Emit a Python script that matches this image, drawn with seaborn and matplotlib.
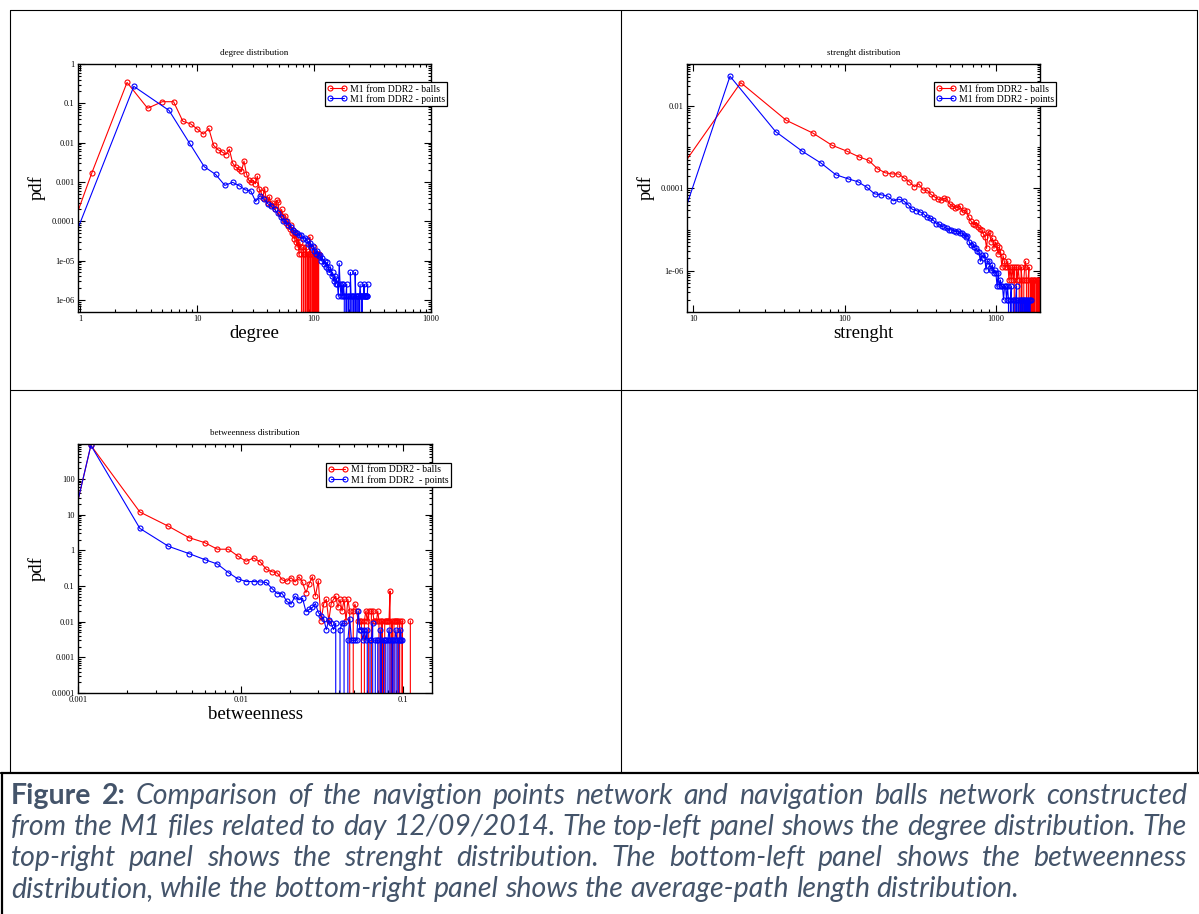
import matplotlib
matplotlib.use("Agg")
import numpy as np
import matplotlib.pyplot as plt
import seaborn as sns
from matplotlib.lines import Line2D
from matplotlib.ticker import LogLocator, FixedLocator, FuncFormatter, NullFormatter

# ---------------------------
# data
# ---------------------------

# degree distribution
DEG_BALLS_X = [0.9, 1.26, 2.52, 3.78, 5.04, 6.30, 7.56, 8.82, 10.08, 11.34, 12.60, 13.86, 15.12, 16.38, 17.64,
               18.90, 20.16, 21.42, 22.68, 23.94, 25.20, 26.46, 27.72, 28.98, 30.24, 31.50, 32.76, 34.02, 35.28,
               36.54, 37.80, 39.06, 40.32, 41.58, 42.84, 44.10, 45.36, 46.62, 47.88, 49.14, 50.40, 51.66, 52.92,
               54.18, 55.44, 56.70, 57.96, 59.22, 60.48, 61.74, 63.00, 64.26, 65.52, 66.78, 68.04, 69.30, 70.56,
               71.82, 73.08, 74.34, 75.60, 76.86, 78.12, 79.38, 80.64, 81.90, 83.16, 84.42, 85.68, 86.94, 88.20,
               89.46, 90.72, 91.98, 93.24, 94.50, 95.76, 97.02, 98.28, 99.54, 100.80, 102.06, 103.32, 104.58,
               105.84, 107.10, 108.36, 109.62, 110.88]
DEG_BALLS_Y = [1.07e-4, 1.7e-3, 0.34, 0.075, 0.11, 0.11, 0.035, 0.030, 0.022, 0.0165, 0.023,
               0.0085, 0.0066, 0.0058, 0.0050, 0.0068, 0.0030, 0.0024, 0.0021, 0.0019, 0.0034,
               0.0016, 0.0011, 0.0010, 0.0011, 0.0009, 0.0014,
               6.5e-4, 5.5e-4, 4.0e-4, 6.8e-4, 3.6e-4, 3.0e-4, 4.2e-4, 2.6e-4, 3.0e-4, 2.4e-4,
               2.0e-4, 3.4e-4, 3.1e-4, 1.7e-4, 1.5e-4, 2.0e-4, 1.3e-4, 1.1e-4, 1.4e-4, 9e-5,
               1.0e-4, 7.5e-5, 6.5e-5, 8e-5, 5e-5, 6e-5, 4.5e-5, 3.5e-5, 5.5e-5, 3e-5,
               2.2e-5, 4e-5, 1.5e-5, 3e-5, 2.2e-5, 1.5e-5, 0, 2.2e-5, 1.5e-5, 0,
               1.5e-5, 2.2e-5, 0, 1.5e-5, 1.5e-5, 0, 4e-5, 1.5e-5, 0, 1.5e-5,
               1.5e-5, 0, 2.2e-5, 0, 1.5e-5, 1.5e-5, 0, 1.5e-5, 0, 1.5e-5,
               1.5e-5, 0]
DEG_POINTS_X = [0.9, 2.88, 5.76, 8.64, 11.52, 14.40, 17.28, 20.16, 23.04, 25.92, 28.80, 31.68, 34.56, 37.44,
                40.32, 43.20, 46.08, 48.96, 51.84, 54.72, 57.60, 60.48, 63.36, 66.24, 69.12, 72.00, 74.88,
                77.76, 80.64, 83.52, 86.40, 89.28, 92.16, 95.04, 97.92, 100.80, 103.68, 106.56, 109.44, 112.32,
                115.20, 118.08, 120.96, 123.84, 126.72, 129.60, 132.48, 135.36, 138.24, 141.12, 144.00, 146.88,
                149.76, 152.64, 155.52, 158.40, 161.28, 164.16, 167.04, 169.92, 172.80, 175.68, 178.56, 181.44,
                184.32, 187.20, 190.08, 192.96, 195.84, 198.72, 201.60, 204.48, 207.36, 210.24, 213.12, 216.00,
                218.88, 221.76, 224.64, 227.52, 230.40, 233.28, 236.16, 239.04, 241.92, 244.80, 247.68, 250.56,
                253.44, 256.32, 259.20, 262.08, 264.96, 267.84, 270.72, 273.60, 276.48, 279.36, 282.24, 285.12,
                288.00]
DEG_POINTS_Y = [4.1e-5, 0.27, 0.066, 0.0096, 0.00245, 0.00156, 0.00082, 0.00098, 0.0008, 0.00063,
                0.00059, 0.00032, 0.00045,
                3.6e-4, 2.8e-4, 2.4e-4, 2.0e-4, 1.6e-4,
                1.3e-4, 1.0e-4, 1.0e-4, 8e-5, 7e-5, 6e-5, 5.5e-5, 5e-5, 4.5e-5, 4.6e-5,
                3.6e-5, 3.8e-5, 3.4e-5, 2.6e-5, 2.8e-5, 2.2e-5, 2.4e-5, 1.8e-5, 1.5e-5, 1.8e-5,
                1.3e-5, 1.4e-5, 1.0e-5, 1.2e-5, 8e-6, 1.0e-5, 7e-6, 9e-6, 6e-6, 5e-6,
                7e-6, 4e-6, 5e-6, 3e-6, 4e-6, 2.5e-6, 3.5e-6, 2.5e-6, 1.25e-6, 8.5e-6,
                2.5e-6, 1.25e-6, 2.5e-6, 1.25e-6, 2.5e-6,
                1.25e-6, 0, 1.25e-6, 2.5e-6, 0, 1.25e-6, 1.25e-6, 0, 5e-6, 1.25e-6,
                1.25e-6, 0, 1.25e-6, 1.25e-6, 0, 5e-6, 1.25e-6, 0, 1.25e-6, 1.25e-6,
                1.25e-6, 0, 1.25e-6, 2.5e-6, 1.25e-6, 1.25e-6, 0, 1.25e-6, 1.25e-6, 1.25e-6,
                2.5e-6, 1.25e-6, 1.25e-6, 1.25e-6, 1.25e-6, 1.25e-6, 1.25e-6, 2.5e-6]

# strenght distribution
STR_BALLS_X = [8, 20.6, 41.2, 61.8, 82.4, 103.0, 123.6, 144.2, 164.8, 185.4, 206.0, 226.6, 247.2, 267.8,
               288.4, 309.0, 329.6, 350.2, 370.8, 391.4, 412.0, 432.6, 453.2, 473.8, 494.4, 515.0, 535.6,
               556.2, 576.8, 597.4, 618.0, 638.6, 659.2, 679.8, 700.4, 721.0, 741.6, 762.2, 782.8, 803.4,
               824.0, 844.6, 865.2, 885.8, 906.4, 927.0, 947.6, 968.2, 988.8, 1009.4, 1030.0, 1050.6, 1071.2,
               1091.8, 1112.4, 1133.0, 1153.6, 1174.2, 1194.8, 1215.4, 1236.0, 1256.6, 1277.2, 1297.8,
               1318.4, 1339.0, 1359.6, 1380.2, 1400.8, 1421.4, 1442.0, 1462.6, 1483.2, 1503.8, 1524.4,
               1545.0, 1565.6, 1586.2, 1606.8, 1627.4, 1648.0, 1668.6, 1689.2, 1709.8, 1730.4, 1751.0,
               1771.6, 1792.2, 1812.8, 1833.4, 1854.0, 1874.6, 1895.2, 1915.8, 1936.4]
STR_BALLS_Y = [2.6e-4, 0.037, 0.0045, 0.0022, 0.00112, 8.1e-4, 5.9e-4, 4.8e-4, 3.0e-4, 2.4e-4, 2.25e-4,
               2.25e-4, 1.8e-4, 1.45e-4, 1.1e-4, 1.3e-4, 9.1e-5, 9.1e-5, 7.2e-5, 6.3e-5, 5.5e-5,
               5.2e-5, 5.8e-5, 5.5e-5, 4.2e-5, 3.8e-5, 3.3e-5, 3.5e-5, 3.7e-5, 2.7e-5, 3.0e-5,
               2.8e-5, 2.0e-5, 1.66e-5, 1.4e-5, 1.3e-5, 1.5e-5, 1.17e-5, 1.05e-5, 9.8e-6, 7.9e-6,
               6.8e-6, 3.5e-6, 8.9e-6, 8.1e-6, 5e-6, 6.2e-6, 3.5e-6, 5e-6, 4.3e-6, 2.5e-6,
               3.8e-6, 2.8e-6, 1.23e-6, 2.3e-6, 1.7e-6, 1.23e-6, 1.23e-6, 1.7e-6, 6e-7, 1.23e-6,
               6e-7, 1.23e-6, 6e-7, 1.23e-6, 0, 1.23e-6, 6e-7, 1.23e-6, 6e-7, 0,
               1.23e-6, 6e-7, 0, 6e-7, 1.23e-6, 1.7e-6, 6e-7, 0, 6e-7, 1.23e-6,
               0, 6e-7, 6e-7, 0, 6e-7, 0, 6e-7, 6e-7, 0, 6e-7,
               0, 6e-7, 0, 6e-7]
STR_POINTS_X = [8, 17.5, 35.0, 52.5, 70.0, 87.5, 105.0, 122.5, 140.0, 157.5, 175.0, 192.5, 210.0, 227.5,
                245.0, 262.5, 280.0, 297.5, 315.0, 332.5, 350.0, 367.5, 385.0, 402.5, 420.0, 437.5, 455.0,
                472.5, 490.0, 507.5, 525.0, 542.5, 560.0, 577.5, 595.0, 612.5, 630.0, 647.5, 665.0, 682.5,
                700.0, 717.5, 735.0, 752.5, 770.0, 787.5, 805.0, 822.5, 840.0, 857.5, 875.0, 892.5, 910.0,
                927.5, 945.0, 962.5, 980.0, 997.5, 1015.0, 1032.5, 1050.0, 1067.5, 1085.0, 1102.5, 1120.0,
                1137.5, 1155.0, 1172.5, 1190.0, 1207.5, 1225.0, 1242.5, 1260.0, 1277.5, 1295.0, 1312.5,
                1330.0, 1347.5, 1365.0, 1382.5, 1400.0, 1417.5, 1435.0, 1452.5, 1470.0, 1487.5, 1505.0,
                1522.5, 1540.0, 1557.5, 1575.0, 1592.5, 1610.0, 1627.5, 1645.0, 1662.5, 1680.0, 1697.5]
STR_POINTS_Y = [1e-5, 0.053, 0.0024, 8.0e-4, 4.1e-4, 2.15e-4, 1.72e-4, 1.45e-4, 1.07e-4, 7.4e-5, 7.0e-5,
                6.5e-5, 5.0e-5, 5.5e-5, 5.0e-5, 4.0e-5, 3.1e-5, 2.9e-5, 2.7e-5, 2.4e-5, 2.0e-5,
                1.9e-5, 1.7e-5, 1.4e-5, 1.35e-5, 1.2e-5, 1.15e-5, 1.07e-5, 1.0e-5, 9.8e-6, 9.5e-6,
                8.9e-6, 9.2e-6, 8.1e-6, 8.3e-6, 7.4e-6, 6.8e-6, 7.2e-6, 5.0e-6, 4.3e-6, 4.6e-6,
                3.8e-6, 3.5e-6, 3.0e-6, 2.9e-6, 1.7e-6, 2.4e-6, 2.1e-6, 2.4e-6, 1.05e-6, 1.7e-6,
                1.7e-6, 1.2e-6, 1.05e-6, 1.4e-6, 8.7e-7, 1.05e-6, 8.7e-7, 4.2e-7, 8.7e-7, 4.2e-7,
                6e-7, 4.2e-7, 4.2e-7, 2e-7, 4.2e-7, 4.2e-7, 2e-7, 4.2e-7, 2e-7, 0,
                2e-7, 4.2e-7, 0, 2e-7, 2e-7, 0, 2e-7, 4.2e-7, 0, 2e-7,
                0, 2e-7, 2e-7, 0, 2e-7, 0, 2e-7, 2e-7, 0, 2e-7,
                0, 2e-7, 0, 2e-7, 0, 2e-7, 2e-7]

# betweenness distribution (both sets share the same bins)
BTW_X = [0.0009, 0.0012, 0.0024, 0.0036, 0.0048, 0.0060, 0.0072, 0.0084, 0.0096, 0.0108, 0.0120, 0.0132,
         0.0144, 0.0156, 0.0168, 0.0180, 0.0192, 0.0204, 0.0216, 0.0228, 0.0240, 0.0252, 0.0264, 0.0276,
         0.0288, 0.0300, 0.0312, 0.0324, 0.0336, 0.0348, 0.0360, 0.0372, 0.0384, 0.0396, 0.0408, 0.0420,
         0.0432, 0.0444, 0.0456, 0.0468, 0.0480, 0.0492, 0.0504, 0.0516, 0.0528, 0.0540, 0.0552, 0.0564,
         0.0576, 0.0588, 0.0600, 0.0612, 0.0624, 0.0636, 0.0648, 0.0660, 0.0672, 0.0684, 0.0696, 0.0708,
         0.0720, 0.0732, 0.0744, 0.0756, 0.0768, 0.0780, 0.0792, 0.0804, 0.0816, 0.0828, 0.0840, 0.0852,
         0.0864, 0.0876, 0.0888, 0.0900, 0.0912, 0.0924, 0.0936, 0.0948, 0.0960, 0.0972, 0.0984, 0.0996,
         0.1008, 0.1020, 0.1032, 0.1044, 0.1056, 0.1068, 0.1080, 0.1092, 0.1104]
BTW_BALLS_Y = [3.2, 871, 11.8, 4.7, 2.27, 1.64, 1.07, 1.07, 0.69, 0.49, 0.61,
               0.47, 0.29, 0.25, 0.23, 0.148, 0.135, 0.17, 0.13, 0.18, 0.125,
               0.065, 0.117, 0.18, 0.052, 0.14, 0.0105, 0.032, 0.042, 0.0105, 0.032,
               0.042, 0.052, 0.025, 0.042, 0.02, 0.042, 0.0105, 0.042, 0.02, 0,
               0.02, 0.031, 0.02, 0.0105, 0.0105, 0.0105, 0, 0.0105, 0.02, 0.0105,
               0.02, 0, 0.02, 0.02, 0.0105, 0.0105, 0.0105, 0.02, 0.0105, 0,
               0.0105, 0.0105, 0, 0.0105, 0.0105, 0.0105, 0.0105, 0.0105, 0.072, 0,
               0.0105, 0, 0.0105, 0.0105, 0.0105, 0.0105, 0.0105, 0, 0.0105, 0,
               0, 0.0105, 0, 0, 0, 0, 0, 0, 0, 0,
               0, 0.0105]
BTW_POINTS_Y = [3.2, 871, 4.1, 1.29, 0.81, 0.55, 0.41, 0.237, 0.158, 0.133, 0.133,
                0.13, 0.125, 0.084, 0.061, 0.061, 0.037, 0.031, 0.052, 0.041, 0.045,
                0.019, 0.022, 0.025, 0.032, 0.018, 0.0145, 0.012, 0.006, 0.011, 0.009,
                0.006, 0.009, 0, 0.006, 0.009, 0.009, 0, 0.003, 0.012, 0.003,
                0.003, 0.003, 0.003, 0.02, 0.006, 0.006, 0.003, 0.006, 0.003, 0.006,
                0, 0.003, 0.003, 0.009, 0, 0.003, 0.003, 0.003, 0, 0.006,
                0.003, 0, 0.003, 0.003, 0.003, 0, 0.003, 0.006, 0.003, 0,
                0.003, 0.003, 0, 0.003, 0.006, 0.003, 0, 0.003, 0.003, 0.006,
                0.003, 0.003]

LABEL_BALLS = "M1 from DDR2 - balls"
LABEL_POINTS = "M1 from DDR2 - points"
LABEL_POINTS_BTW = "M1 from DDR2  - points"

CAPTION_LINES = [
    "Figure 2: Comparison of the navigtion points network and navigation balls network constructed",
    "from the M1 files related to day 12/09/2014. The top-left panel shows the degree distribution. The",
    "top-right panel shows the strenght distribution. The bottom-left panel shows the betweenness",
    "distribution, while the bottom-right panel shows the average-path length distribution.",
]

# ---------------------------
# style
# ---------------------------
sns.set_style("ticks", {"axes.edgecolor": "black", "xtick.color": "black", "ytick.color": "black",
                        "text.color": "black", "axes.labelcolor": "black"})
plt.rcParams["font.family"] = ["Liberation Serif", "DejaVu Serif"]

W, H = 1199, 914
fig = plt.figure(figsize=(W / 100, H / 100), dpi=100)
fig.patch.set_facecolor("white")


def rect_px(l, t, r, b):
    return [l / W, 1 - b / H, (r - l) / W, (b - t) / H]


def line_px(x0, y0, x1, y1, lw=0.8):
    fig.add_artist(Line2D([x0 / W, x1 / W], [1 - y0 / H, 1 - y1 / H],
                          transform=fig.transFigure, color="black", lw=lw))


fmt = FuncFormatter(lambda v, p: "%g" % v)


def panel(box, xr, yr, xb, yb, lab_b, title, xlabel, xlim, ylim, ymajor=None, anchor=(0.70, 0.927)):
    ax = fig.add_axes(rect_px(*box))
    for x, y, c, lab in ((xr, yr, "red", LABEL_BALLS), (xb, yb, "blue", lab_b)):
        sns.lineplot(x=x, y=y, ax=ax, color=c, linewidth=0.8, marker="o", markersize=3.6,
                     markerfacecolor="none", markeredgecolor=c, markeredgewidth=0.8,
                     estimator=None, sort=False, label=lab)
    ax.set_xscale("log")
    ax.set_yscale("log")
    ax.set_xlim(*xlim)
    ax.set_ylim(*ylim)
    ax.xaxis.set_major_locator(LogLocator(base=10, numticks=30))
    ax.xaxis.set_minor_locator(LogLocator(base=10, subs=np.arange(2, 10), numticks=30))
    if ymajor is None:
        ax.yaxis.set_major_locator(LogLocator(base=10, numticks=30))
    else:
        ax.yaxis.set_major_locator(FixedLocator(ymajor))
    ax.yaxis.set_minor_locator(LogLocator(base=10, subs=np.arange(1, 10), numticks=30))
    ax.xaxis.set_major_formatter(fmt)
    ax.yaxis.set_major_formatter(fmt)
    ax.xaxis.set_minor_formatter(NullFormatter())
    ax.yaxis.set_minor_formatter(NullFormatter())
    ax.tick_params(which="both", direction="in", top=True, right=True, labelsize=6, width=0.8, pad=2.5)
    ax.tick_params(which="major", length=5)
    ax.tick_params(which="minor", length=2.5)
    for s in ax.spines.values():
        s.set_linewidth(1.0)
        s.set_color("black")
    ax.set_title(title, fontsize=6.5, pad=6.5)
    ax.set_xlabel(xlabel, fontsize=13.5, labelpad=1)
    ax.set_ylabel("pdf", fontsize=13.5, labelpad=4)
    leg = ax.legend(loc="upper left", bbox_to_anchor=anchor, borderaxespad=0, fontsize=7, numpoints=2,
                    handlelength=2.0, handletextpad=0.3, borderpad=0.25, labelspacing=0.05,
                    frameon=True, fancybox=False, framealpha=1)
    leg.get_frame().set_edgecolor("black")
    leg.get_frame().set_linewidth(0.9)
    return ax


panel((78, 64, 431, 312), DEG_BALLS_X, DEG_BALLS_Y, DEG_POINTS_X, DEG_POINTS_Y, LABEL_POINTS,
      "degree distribution", "degree", (0.96, 1000), (4.95e-7, 1))
panel((687, 64, 1040, 312), STR_BALLS_X, STR_BALLS_Y, STR_POINTS_X, STR_POINTS_Y, LABEL_POINTS,
      "strenght distribution", "strenght", (9.1, 1950), (1e-7, 0.105), ymajor=[1e-6, 1e-4, 1e-2])
panel((78, 444, 432, 693), BTW_X, BTW_BALLS_Y, BTW_X[:len(BTW_POINTS_Y)], BTW_POINTS_Y, LABEL_POINTS_BTW,
      "betweenness distribution", "betweenness", (0.001, 0.15), (1e-4, 950), anchor=(0.70, 0.924))

# ---------------------------
# table borders
# ---------------------------
line_px(10, 10, 1197, 10)
line_px(10, 10, 10, 773)
line_px(1197, 10, 1197, 773)
line_px(621, 10, 621, 773)
line_px(10, 390, 1197, 390)
line_px(1, 773, 1199, 773, lw=1.6)
line_px(1.5, 773, 1.5, 914, lw=1.6)

# ---------------------------
# caption, justified word by word
# ---------------------------
renderer = fig.canvas.get_renderer()
cap_kw = dict(family=["Lato", "DejaVu Sans"], size=20.5, color="#44546A")
CAP_LEFT, CAP_RIGHT = 11, 1187
baselines = [804, 835, 866, 897]


def word_width(word, weight, style):
    t = fig.text(0, 0, word, weight=weight, style=style, **cap_kw)
    w = t.get_window_extent(renderer=renderer).width
    t.remove()
    return w


space_w = word_width("x x", "normal", "italic") - word_width("xx", "normal", "italic")
for i, line in enumerate(CAPTION_LINES):
    words = line.split(" ")
    styles = [("bold", "normal") if (i == 0 and j < 2) else ("normal", "italic") for j in range(len(words))]
    widths = [word_width(w, *s) for w, s in zip(words, styles)]
    if i < len(CAPTION_LINES) - 1:
        gap = (CAP_RIGHT - CAP_LEFT - sum(widths)) / (len(words) - 1)
    else:
        gap = space_w
    x = CAP_LEFT
    for w, s, wd in zip(words, styles, widths):
        fig.text(x / W, 1 - baselines[i] / H, w, ha="left", va="baseline",
                 weight=s[0], style=s[1], **cap_kw)
        x += wd + gap

fig.savefig("out.png", dpi=100, facecolor="white")
